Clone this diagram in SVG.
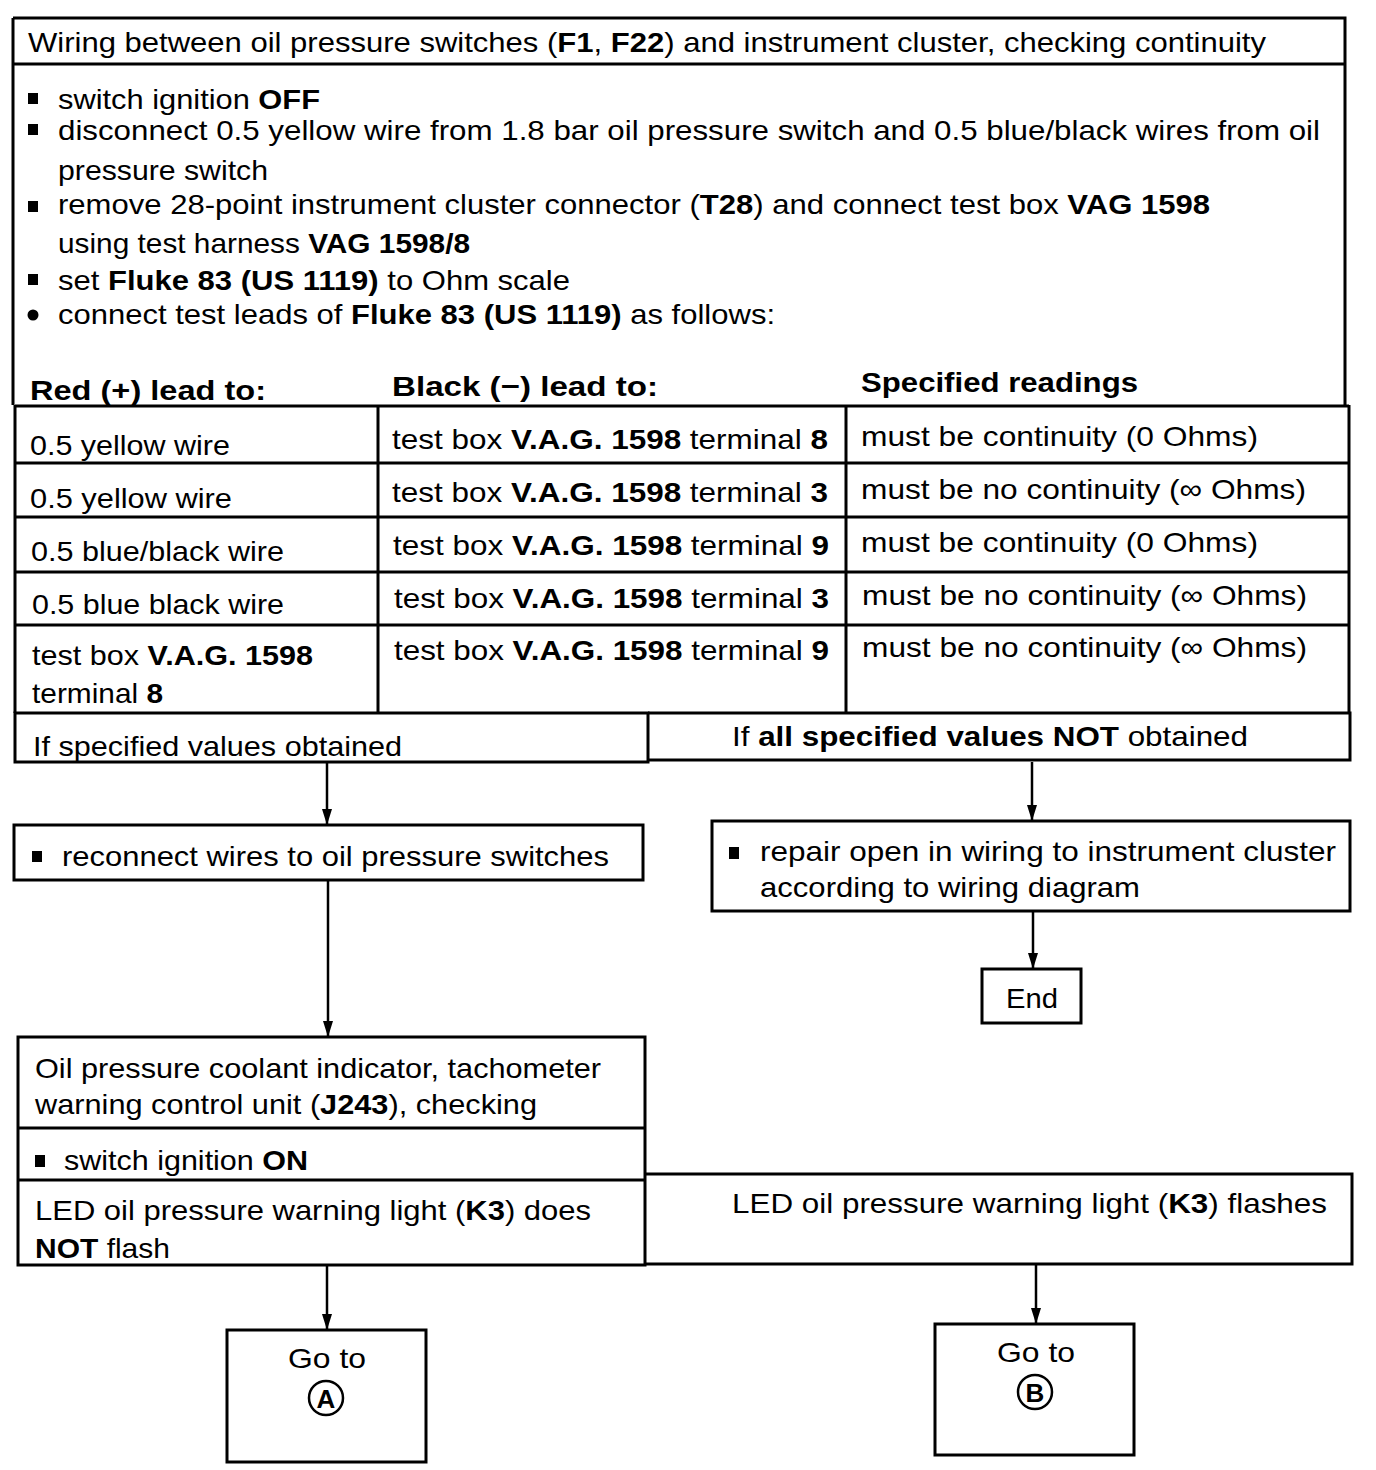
<svg xmlns="http://www.w3.org/2000/svg" width="1376" height="1470" viewBox="0 0 1376 1470">
<defs>
<style>
text{font-family:"Liberation Sans",Arial,sans-serif;font-size:28px;fill:#000}
.b{font-weight:bold}
.box{fill:none;stroke:#000;stroke-width:3}
.ln{fill:none;stroke:#000;stroke-width:3}
.con{fill:none;stroke:#000;stroke-width:2.5}
.sq{fill:#000}
</style>
<marker id="arr" viewBox="0 0 16 10" refX="16" refY="5" markerWidth="16" markerHeight="10" markerUnits="userSpaceOnUse" orient="auto">
<path d="M0,0 L16,5 L0,10 z" fill="#000"/>
</marker>
</defs>
<rect width="1376" height="1470" fill="#fff"/>

<g id="node-check-wiring">
<path class="ln" d="M13,18 H1345 V405 M13,18 V405 M13,64 H1345"/>
<text x="28" y="52" textLength="1238" lengthAdjust="spacingAndGlyphs">Wiring between oil pressure switches (<tspan class="b">F1</tspan>, <tspan class="b">F22</tspan>) and instrument cluster, checking continuity</text>
<rect class="sq" x="28" y="93" width="10" height="11"/>
<text x="58" y="109" textLength="262" lengthAdjust="spacingAndGlyphs">switch ignition <tspan class="b">OFF</tspan></text>
<rect class="sq" x="28" y="124" width="10" height="11"/>
<text x="58" y="140" textLength="1262" lengthAdjust="spacingAndGlyphs">disconnect 0.5 yellow wire from 1.8 bar oil pressure switch and 0.5 blue/black wires from oil</text>
<text x="58" y="180" textLength="210" lengthAdjust="spacingAndGlyphs">pressure switch</text>
<rect class="sq" x="28" y="201" width="10" height="11"/>
<text x="58" y="214" textLength="1152" lengthAdjust="spacingAndGlyphs">remove 28-point instrument cluster connector (<tspan class="b">T28</tspan>) and connect test box <tspan class="b">VAG 1598</tspan></text>
<text x="58" y="253" textLength="412" lengthAdjust="spacingAndGlyphs">using test harness <tspan class="b">VAG 1598/8</tspan></text>
<rect class="sq" x="28" y="274" width="10" height="11"/>
<text x="58" y="290" textLength="512" lengthAdjust="spacingAndGlyphs">set <tspan class="b">Fluke 83 (US 1119)</tspan> to Ohm scale</text>
<circle cx="33" cy="315" r="5.5" fill="#000"/>
<text x="58" y="324" textLength="717" lengthAdjust="spacingAndGlyphs">connect test leads of <tspan class="b">Fluke 83 (US 1119)</tspan> as follows:</text>
<text class="b" x="30" y="400" textLength="236" lengthAdjust="spacingAndGlyphs">Red (+) lead to:</text>
<text class="b" x="392" y="396" textLength="266" lengthAdjust="spacingAndGlyphs">Black (−) lead to:</text>
<text class="b" x="861" y="392" textLength="277" lengthAdjust="spacingAndGlyphs">Specified readings</text>
</g>

<g id="node-table">
<path class="ln" d="M15,406 H1349 M15,463 H1349 M15,517 H1349 M15,572 H1349 M15,625 H1349 M15,405 V713 M1349,405 V713 M378,406 V713 M846,406 V713"/>
<text x="30" y="455" textLength="200" lengthAdjust="spacingAndGlyphs">0.5 yellow wire</text>
<text x="392" y="449" textLength="436" lengthAdjust="spacingAndGlyphs">test box <tspan class="b">V.A.G. 1598</tspan> terminal <tspan class="b">8</tspan></text>
<text x="861" y="446" textLength="397" lengthAdjust="spacingAndGlyphs">must be continuity (0 Ohms)</text>
<text x="30" y="508" textLength="202" lengthAdjust="spacingAndGlyphs">0.5 yellow wire</text>
<text x="392" y="502" textLength="436" lengthAdjust="spacingAndGlyphs">test box <tspan class="b">V.A.G. 1598</tspan> terminal <tspan class="b">3</tspan></text>
<text x="861" y="499" textLength="445" lengthAdjust="spacingAndGlyphs">must be no continuity (∞ Ohms)</text>
<text x="31" y="561" textLength="253" lengthAdjust="spacingAndGlyphs">0.5 blue/black wire</text>
<text x="393" y="555" textLength="436" lengthAdjust="spacingAndGlyphs">test box <tspan class="b">V.A.G. 1598</tspan> terminal <tspan class="b">9</tspan></text>
<text x="861" y="552" textLength="397" lengthAdjust="spacingAndGlyphs">must be continuity (0 Ohms)</text>
<text x="32" y="614" textLength="252" lengthAdjust="spacingAndGlyphs">0.5 blue black wire</text>
<text x="394" y="608" textLength="435" lengthAdjust="spacingAndGlyphs">test box <tspan class="b">V.A.G. 1598</tspan> terminal <tspan class="b">3</tspan></text>
<text x="862" y="605" textLength="445" lengthAdjust="spacingAndGlyphs">must be no continuity (∞ Ohms)</text>
<text x="32" y="665" textLength="281" lengthAdjust="spacingAndGlyphs">test box <tspan class="b">V.A.G. 1598</tspan></text>
<text x="32" y="703" textLength="131" lengthAdjust="spacingAndGlyphs">terminal <tspan class="b">8</tspan></text>
<text x="394" y="660" textLength="435" lengthAdjust="spacingAndGlyphs">test box <tspan class="b">V.A.G. 1598</tspan> terminal <tspan class="b">9</tspan></text>
<text x="862" y="657" textLength="445" lengthAdjust="spacingAndGlyphs">must be no continuity (∞ Ohms)</text>
</g>

<g id="node-obtained">
<path class="ln" d="M15,713 H648 V762 H15 Z"/>
<text x="33" y="756" textLength="369" lengthAdjust="spacingAndGlyphs">If specified values obtained</text>
</g>
<g id="node-not-obtained">
<path class="ln" d="M648,713 H1350 V760 H648"/>
<text x="732" y="746" textLength="516" lengthAdjust="spacingAndGlyphs">If <tspan class="b">all specified values NOT</tspan> obtained</text>
</g>

<g id="node-reconnect">
<rect class="box" x="14" y="825" width="629" height="55"/>
<rect class="sq" x="32" y="851" width="10" height="11"/>
<text x="62" y="866" textLength="547" lengthAdjust="spacingAndGlyphs">reconnect wires to oil pressure switches</text>
</g>

<g id="node-repair">
<rect class="box" x="712" y="821" width="638" height="90"/>
<rect class="sq" x="729" y="847" width="10" height="12"/>
<text x="760" y="861" textLength="576" lengthAdjust="spacingAndGlyphs">repair open in wiring to instrument cluster</text>
<text x="760" y="897" textLength="380" lengthAdjust="spacingAndGlyphs">according to wiring diagram</text>
</g>

<g id="node-end">
<rect class="box" x="982" y="969" width="99" height="54"/>
<text x="1006" y="1008" textLength="52" lengthAdjust="spacingAndGlyphs">End</text>
</g>

<g id="node-j243">
<rect class="box" x="18" y="1037" width="627" height="228"/>
<path class="ln" d="M18,1128 H645 M18,1180 H645"/>
<text x="35" y="1078" textLength="566" lengthAdjust="spacingAndGlyphs">Oil pressure coolant indicator, tachometer</text>
<text x="35" y="1114" textLength="502" lengthAdjust="spacingAndGlyphs">warning control unit (<tspan class="b">J243</tspan>), checking</text>
<rect class="sq" x="35" y="1155" width="10" height="12"/>
<text x="64" y="1170" textLength="244" lengthAdjust="spacingAndGlyphs">switch ignition <tspan class="b">ON</tspan></text>
<text x="35" y="1220" textLength="556" lengthAdjust="spacingAndGlyphs">LED oil pressure warning light (<tspan class="b">K3</tspan>) does</text>
<text x="35" y="1258" textLength="135" lengthAdjust="spacingAndGlyphs"><tspan class="b">NOT</tspan> flash</text>
</g>

<g id="node-flashes">
<path class="ln" d="M645,1174 H1352 V1264 H645"/>
<text x="732" y="1213" textLength="595" lengthAdjust="spacingAndGlyphs">LED oil pressure warning light (<tspan class="b">K3</tspan>) flashes</text>
</g>

<g id="node-goto-a">
<rect class="box" x="227" y="1330" width="199" height="132"/>
<text x="327" y="1368" text-anchor="middle" textLength="78" lengthAdjust="spacingAndGlyphs">Go to</text>
<circle cx="326" cy="1398" r="17" fill="none" stroke="#000" stroke-width="2.5"/>
<text class="b" x="326" y="1408" text-anchor="middle" style="font-size:26px">A</text>
</g>

<g id="node-goto-b">
<rect class="box" x="935" y="1324" width="199" height="131"/>
<text x="1036" y="1362" text-anchor="middle" textLength="78" lengthAdjust="spacingAndGlyphs">Go to</text>
<circle cx="1035" cy="1392" r="17" fill="none" stroke="#000" stroke-width="2.5"/>
<text class="b" x="1035" y="1402" text-anchor="middle" style="font-size:26px">B</text>
</g>

<g id="connectors">
<path class="con" d="M327,763 V825" marker-end="url(#arr)"/>
<path class="con" d="M1032,762 V821" marker-end="url(#arr)"/>
<path class="con" d="M328,881 V1037" marker-end="url(#arr)"/>
<path class="con" d="M1033,912 V969" marker-end="url(#arr)"/>
<path class="con" d="M327,1266 V1330" marker-end="url(#arr)"/>
<path class="con" d="M1036,1265 V1324" marker-end="url(#arr)"/>
</g>
</svg>
